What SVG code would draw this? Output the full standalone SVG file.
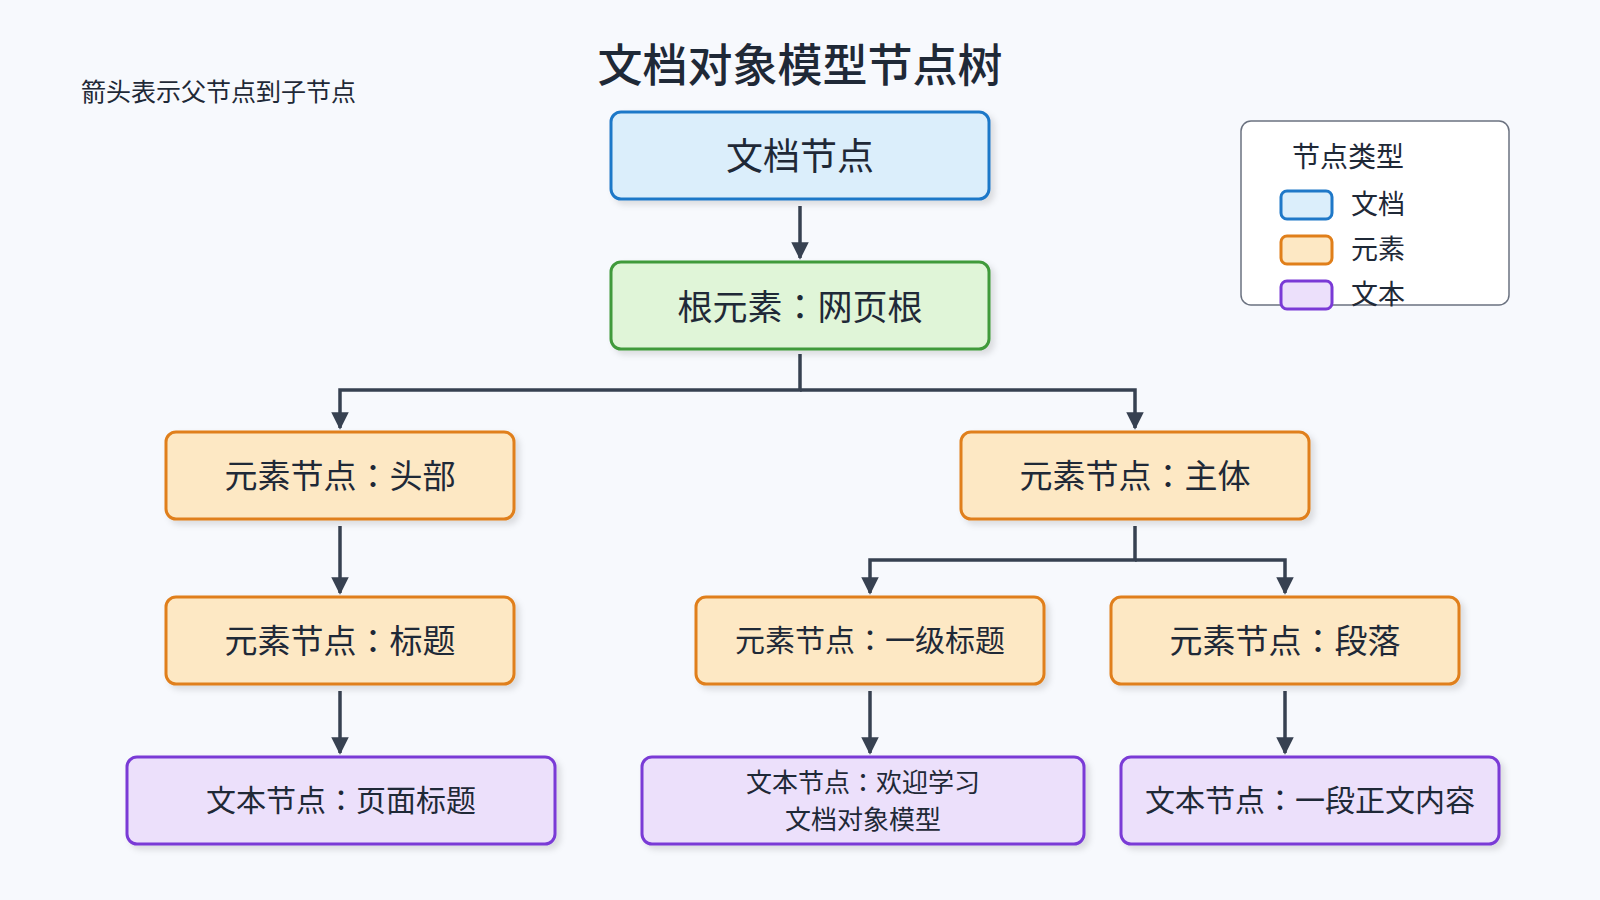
<svg xmlns="http://www.w3.org/2000/svg" width="1600" height="900" viewBox="0 0 1600 900">
<defs>
<style>
text{font-family:"Noto Sans CJK JP","Noto Sans CJK SC","Noto Sans",sans-serif;fill:#1f2937;text-anchor:middle;dominant-baseline:central}
.n rect{stroke-width:3}
.doc rect{fill:#dbeefb;stroke:#1f78c8}
.root rect{fill:#e0f5d8;stroke:#3f9a3a}
.el rect{fill:#fde8c4;stroke:#e07f1a}
.tx rect{fill:#ece0fb;stroke:#7a3ad6}
.c{fill:none;stroke:#374151;stroke-width:3.5}
</style>
<marker id="a" viewBox="0 0 10 10" refX="9" refY="5" markerWidth="5" markerHeight="5" orient="auto"><path d="M0,0L10,5L0,10z" fill="#374151"/></marker>
<filter id="s" x="-10%" y="-10%" width="130%" height="140%"><feDropShadow dx="4" dy="4" stdDeviation="3" flood-color="#000" flood-opacity="0.12"/></filter>
</defs>
<rect width="1600" height="900" fill="#f7f9fd"/>
<text x="800" y="62" font-size="45" font-weight="500">文档对象模型节点树</text>
<text x="81" y="90" font-size="25" style="text-anchor:start" fill="#374151">箭头表示父节点到子节点</text>
<g id="connectors">
<path class="c" d="M800,206V258" marker-end="url(#a)"/>
<path class="c" d="M800,354V390H340V428" marker-end="url(#a)"/>
<path class="c" d="M800,390H1135V428" marker-end="url(#a)"/>
<path class="c" d="M340,526V593" marker-end="url(#a)"/>
<path class="c" d="M1135,526V560H870V593" marker-end="url(#a)"/>
<path class="c" d="M1135,560H1285V593" marker-end="url(#a)"/>
<path class="c" d="M340,691V753" marker-end="url(#a)"/>
<path class="c" d="M870,691V753" marker-end="url(#a)"/>
<path class="c" d="M1285,691V753" marker-end="url(#a)"/>
</g>
<g id="doc" class="n doc"><rect x="611" y="112" width="378" height="87" rx="10" filter="url(#s)"/><text x="800" y="154" font-size="37">文档节点</text></g>
<g id="root" class="n root"><rect x="611" y="262" width="378" height="87" rx="10" filter="url(#s)"/><text x="800" y="304" font-size="35">根元素：网页根</text></g>
<g id="head" class="n el"><rect x="166" y="432" width="348" height="87" rx="10" filter="url(#s)"/><text x="340" y="474" font-size="33">元素节点：头部</text></g>
<g id="body" class="n el"><rect x="961" y="432" width="348" height="87" rx="10" filter="url(#s)"/><text x="1135" y="474" font-size="33">元素节点：主体</text></g>
<g id="title" class="n el"><rect x="166" y="597" width="348" height="87" rx="10" filter="url(#s)"/><text x="340" y="639" font-size="33">元素节点：标题</text></g>
<g id="h1" class="n el"><rect x="696" y="597" width="348" height="87" rx="10" filter="url(#s)"/><text x="870" y="638" font-size="30">元素节点：一级标题</text></g>
<g id="p" class="n el"><rect x="1111" y="597" width="348" height="87" rx="10" filter="url(#s)"/><text x="1285" y="639" font-size="33">元素节点：段落</text></g>
<g id="t1" class="n tx"><rect x="127" y="757" width="428" height="87" rx="10" filter="url(#s)"/><text x="341" y="798" font-size="30">文本节点：页面标题</text></g>
<g id="t2" class="n tx"><rect x="642" y="757" width="442" height="87" rx="10" filter="url(#s)"/><text x="863" y="780" font-size="26">文本节点：欢迎学习</text><text x="863" y="817" font-size="26">文档对象模型</text></g>
<g id="t3" class="n tx"><rect x="1121" y="757" width="378" height="87" rx="10" filter="url(#s)"/><text x="1310" y="798" font-size="30">文本节点：一段正文内容</text></g>
<g id="legend">
<rect x="1241" y="121" width="268" height="184" rx="10" fill="#fff" stroke="#6b7280" stroke-width="1.5"/>
<text x="1348" y="155" font-size="28">节点类型</text>
<rect x="1281" y="191" width="51" height="28" rx="6" fill="#dbeefb" stroke="#1f78c8" stroke-width="3"/><text x="1351" y="202" font-size="27" style="text-anchor:start">文档</text>
<rect x="1281" y="236" width="51" height="28" rx="6" fill="#fde8c4" stroke="#e07f1a" stroke-width="3"/><text x="1351" y="247" font-size="27" style="text-anchor:start">元素</text>
<rect x="1281" y="281" width="51" height="28" rx="6" fill="#ece0fb" stroke="#7a3ad6" stroke-width="3"/><text x="1351" y="292" font-size="27" style="text-anchor:start">文本</text>
</g>
</svg>
